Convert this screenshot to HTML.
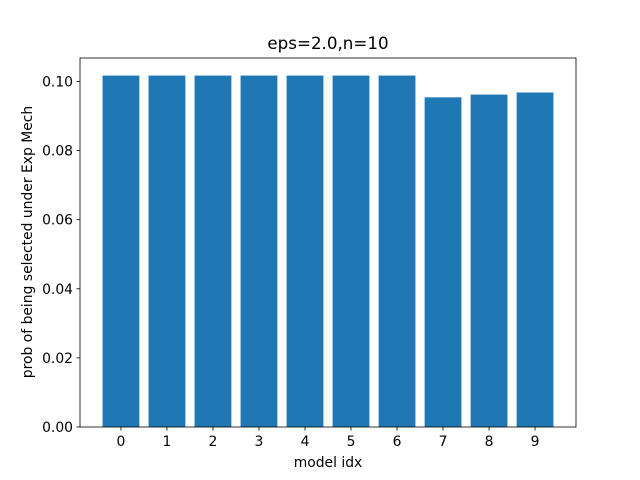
<!DOCTYPE html>
<html><head><meta charset="utf-8"><style>
body{margin:0;background:#fff}
svg{display:block;font-family:"DejaVu Sans","Liberation Sans",sans-serif}
</style></head><body>
<svg id="chart" width="640" height="480">
<rect x="0" y="0" width="640" height="480" fill="#fff"/>
<text x="328" y="49" font-size="16.7" text-anchor="middle">eps=2.0,n=10</text>
<g id="bars"></g>
<g id="axes"></g>
<text x="328" y="467" font-size="13.9" text-anchor="middle">model idx</text>
<text transform="translate(32,242) rotate(-90)" font-size="13.9" text-anchor="middle">prob of being selected under Exp Mech</text>
</svg>
<script>
const categories = ["0","1","2","3","4","5","6","7","8","9"];
const values = [0.1017,0.1017,0.1017,0.1017,0.1017,0.1017,0.1017,0.0954,0.0962,0.0968];
const yTicks = [0.00,0.02,0.04,0.06,0.08,0.10];
const yTickLabels = ["0.00","0.02","0.04","0.06","0.08","0.10"];

const L=80,R=576,T=58,B=427;
const n=categories.length;
const xmin=-0.4-0.049*(n-0.2)/0.98, xmax=(n-1)+0.4+0.049*(n-0.2)/0.98;
const ymax=Math.max(...values)*1.05;
const xs=v=>L+(v-xmin)/(xmax-xmin)*(R-L);
const ys=v=>B-v/ymax*(B-T);
const NS="http://www.w3.org/2000/svg";
const bars=document.getElementById('bars'), axes=document.getElementById('axes');
function mk(tag,attrs,parent){const e=document.createElementNS(NS,tag);for(const k in attrs)e.setAttribute(k,attrs[k]);parent.appendChild(e);return e;}
values.forEach((v,i)=>{
  const x0=xs(i-0.4),x1=xs(i+0.4);
  const r=mk('rect',{x:x0,y:ys(v),width:x1-x0,height:B-ys(v),fill:'#1f77b4'},bars);
  
  
  const t=mk('line',{x1:xs(i),x2:xs(i),y1:B,y2:B+3.5,stroke:'#000','stroke-width':0.8},axes);
  
  
  const lb=mk('text',{x:xs(i),y:B+19,'font-size':13.9,'text-anchor':'middle'},axes);
  lb.textContent=categories[i];
  
  
});
yTicks.forEach((v,i)=>{
  const t=mk('line',{x1:L-3.5,x2:L,y1:ys(v),y2:ys(v),stroke:'#000','stroke-width':0.8},axes);
  
  
  const lb=mk('text',{x:L-7,y:ys(v)+5,'font-size':13.9,'text-anchor':'end'},axes);
  lb.textContent=yTickLabels[i];
  
  
});
const fr=mk('rect',{x:L,y:T,width:R-L,height:B-T,fill:'none',stroke:'#000','stroke-width':0.8},axes);


</script>
</body></html>
